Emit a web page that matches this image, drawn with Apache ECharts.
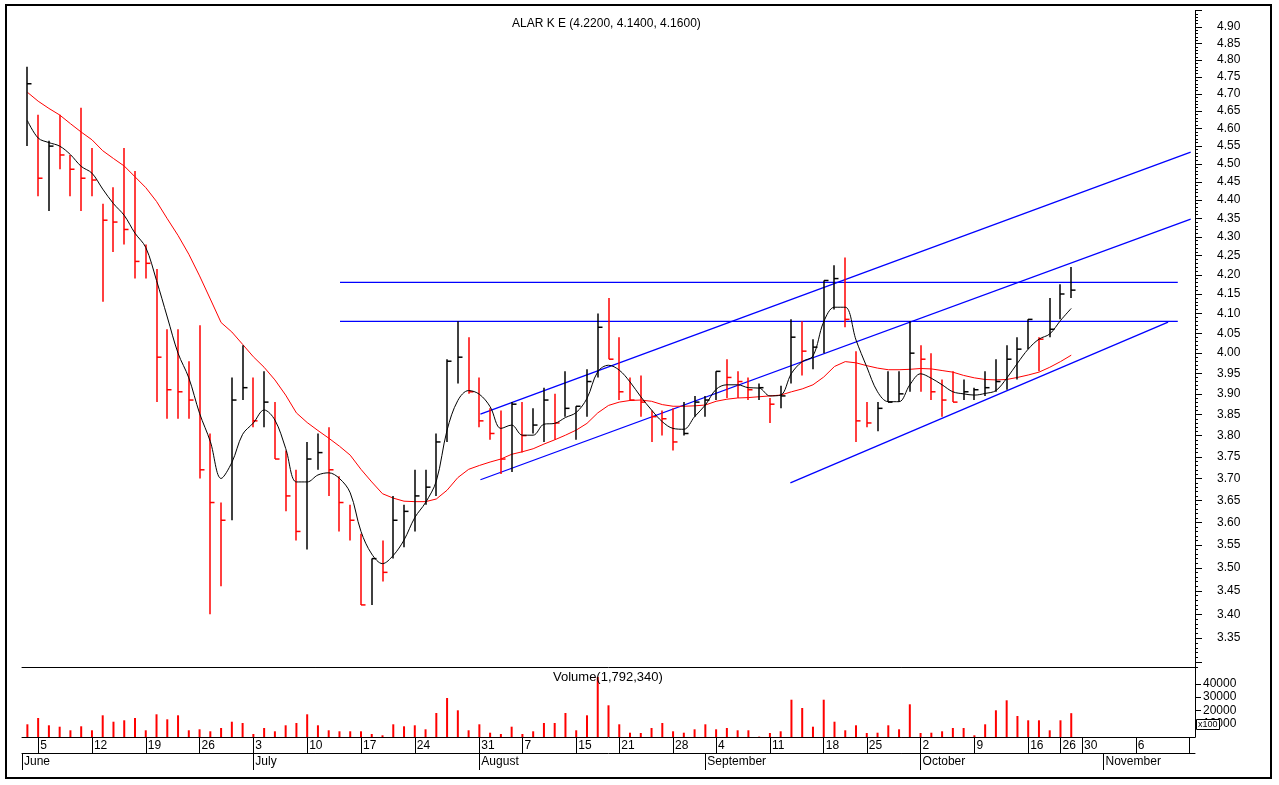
<!DOCTYPE html>
<html><head><meta charset="utf-8">
<script src="https://cdn.jsdelivr.net/npm/echarts@6/dist/echarts.min.js"></script>
<style>html,body{margin:0;padding:0;background:#fff}#c{width:1279px;height:785px}</style>
</head><body><div id="c"></div>
<script>
// ---- data ----
const highs = [4.78,4.64,4.565,4.64,4.525,4.66,4.545,4.39,4.435,4.545,4.48,4.28,4.215,4.06,4.06,3.98,4.07,3.805,3.645,3.94,
4.02,3.94,3.955,3.88,3.765,3.72,3.785,3.805,3.82,3.705,3.64,3.575,3.52,3.56,3.66,3.64,3.72,3.72,3.805,3.985,
4.08,4.04,3.94,3.865,3.86,3.88,3.88,3.865,3.915,3.90,3.955,3.87,3.96,4.10,4.14,4.04,3.94,3.945,3.86,3.86,
3.865,3.88,3.895,3.895,3.955,3.985,3.955,3.94,3.925,3.89,3.92,4.085,4.08,4.035,4.185,4.225,4.245,4.005,3.88,3.88,
3.955,3.955,4.08,4.02,4.00,3.935,3.955,3.935,3.915,3.955,3.985,4.02,4.04,4.085,4.04,4.14,4.175,4.22];
const lows = [4.55,4.41,4.37,4.485,4.41,4.37,4.41,4.13,4.26,4.28,4.19,4.19,3.88,3.84,3.84,3.84,3.70,3.40,3.46,3.605,
3.885,3.82,3.82,3.745,3.625,3.56,3.54,3.72,3.66,3.58,3.56,3.42,3.42,3.47,3.52,3.545,3.58,3.64,3.66,3.785,
3.925,3.90,3.82,3.79,3.71,3.715,3.76,3.805,3.785,3.79,3.845,3.79,3.845,3.94,3.985,3.885,3.885,3.845,3.785,3.80,
3.765,3.80,3.845,3.845,3.885,3.89,3.89,3.885,3.885,3.83,3.865,3.925,3.945,3.96,4.00,4.11,4.065,3.785,3.82,3.81,
3.88,3.88,3.905,3.905,3.885,3.845,3.88,3.885,3.885,3.895,3.905,3.91,3.935,4.01,3.955,4.04,4.085,4.14];
const closes = [4.73,4.46,4.55,4.525,4.485,4.46,4.455,4.345,4.34,4.32,4.235,4.23,3.99,3.91,3.905,3.885,3.72,3.645,3.605,3.885,
3.915,3.835,3.88,3.745,3.66,3.58,3.745,3.76,3.72,3.645,3.605,3.42,3.52,3.49,3.605,3.625,3.66,3.68,3.785,3.98,
3.99,3.905,3.835,3.805,3.745,3.875,3.80,3.825,3.885,3.83,3.865,3.87,3.93,4.065,3.985,3.905,3.885,3.88,3.845,3.84,
3.785,3.805,3.88,3.885,3.955,3.94,3.93,3.91,3.915,3.875,3.895,4.04,4.005,4.015,4.185,4.19,4.085,3.835,3.83,3.865,
3.88,3.90,4.00,3.985,3.905,3.885,3.88,3.905,3.91,3.915,3.93,3.985,4.01,4.085,4.035,4.06,4.15,4.16];
const maShort = [4.623,4.573,4.560,4.550,4.526,4.493,4.474,4.430,4.390,4.358,4.310,4.272,4.185,4.091,4.000,3.939,3.853,3.786,3.700,3.737,
3.803,3.830,3.861,3.837,3.770,3.692,3.692,3.708,3.713,3.700,3.667,3.580,3.530,3.509,3.527,3.561,3.611,3.645,3.694,3.813,
3.884,3.908,3.899,3.869,3.817,3.825,3.801,3.801,3.827,3.829,3.843,3.855,3.889,3.954,3.970,3.958,3.929,3.893,3.861,3.833,
3.817,3.815,3.845,3.873,3.911,3.922,3.922,3.915,3.914,3.895,3.897,3.950,3.979,3.993,4.079,4.116,4.116,4.033,3.966,3.905,
3.881,3.881,3.922,3.949,3.938,3.922,3.905,3.900,3.897,3.901,3.908,3.938,3.975,4.010,4.035,4.048,4.082,4.113];
const maLong = [4.705,4.679,4.658,4.639,4.614,4.590,4.568,4.537,4.515,4.494,4.464,4.434,4.396,4.349,4.304,4.254,4.197,4.137,4.077,4.053,
4.022,3.991,3.965,3.934,3.897,3.854,3.831,3.812,3.794,3.775,3.754,3.721,3.692,3.665,3.655,3.648,3.647,3.647,3.653,3.673,
3.702,3.721,3.730,3.738,3.745,3.756,3.762,3.769,3.780,3.790,3.801,3.813,3.829,3.854,3.872,3.880,3.884,3.885,3.882,3.874,
3.870,3.870,3.871,3.873,3.882,3.887,3.890,3.891,3.893,3.895,3.897,3.905,3.912,3.922,3.941,3.967,3.979,3.976,3.969,3.963,
3.959,3.959,3.960,3.962,3.961,3.957,3.953,3.945,3.939,3.935,3.934,3.935,3.940,3.946,3.953,3.965,3.979,3.995];
const volumes = [9550,14290,8800,7750,5040,8050,5040,16320,11500,12560,14290,5040,17070,13310,16320,5040,5790,4290,6770,11500,
10530,2260,6770,4290,8800,10530,17070,8800,5040,4290,4290,4290,2260,1280,9550,8050,8800,5790,18050,29330,
20080,5040,9550,3230,2260,7750,2260,4290,10530,10530,18050,5040,16320,45100,23840,9550,3230,3010,6770,10530,
4290,3230,5790,9550,5790,6770,5040,5040,300,3010,4290,28050,21810,7750,28050,11500,5040,8800,3010,3230,
8800,5790,24590,3010,3230,4290,6770,6770,1280,9550,20080,27600,15790,12560,12560,5040,12560,17923];
const levelHigh = [[29.05,4.18],[106.9,4.18]];
const levelLow = [[29.05,4.08],[106.9,4.08]];
const channelUpper = [[42.1,3.851],[108.1,4.533]];
const channelMiddle = [[42.1,3.697],[108.1,4.348]];
const channelLower = [[70.9,3.690],[106.0,4.078]];
const priceTicks = [3.35,3.40,3.45,3.50,3.55,3.60,3.65,3.70,3.75,3.80,3.85,3.90,3.95,4.00,4.05,4.10,4.15,4.20,4.25,4.30,4.35,4.40,4.45,4.50,4.55,4.60,4.65,4.70,4.75,4.80,4.85,4.90];
const volumeTicks = [10000,20000,30000,40000];
const dayTickIndex = [1,6,11,16,21,26,31,36,42,46,51,55,60,64,69,74,78,83,88,93,96,98,103,108];
const dayTickLabels = ['5','12','19','26','3','10','17','24','31','7','15','21','28','4','11','18','25','2','9','16','26','30','6',''];
const monthTickIndex = [-0.5,21,42,63,83,100];
const monthTickLabels = ['June','July','August','September','October','November'];
const titleText = 'ALAR K E (4.2200, 4.1400, 4.1600)';
const volumeText = 'Volume(1,792,340)';

// ---- build ----
const FONT = "'Liberation Sans', Arial, sans-serif";
const FS = 12;
const L = Math.log;
const RED = '#ff0000';
const hlc = closes.map((c, i) => [i, L(highs[i]), L(lows[i]), L(c), (i === 0 || c >= closes[i - 1]) ? 1 : 0]);
const toLine = arr => arr.map((v, i) => [i, L(v)]);
const toSeg = arr => arr.map(p => [p[0], L(p[1])]);
const majorTicks = [], minorTicks = [];
for (let k = 0; k <= 33; k++) majorTicks.push(L(3.30 + k * 0.05));
for (let k = 0; k <= 166; k++) minorTicks.push(L(3.29 + k * 0.01));

const chart = echarts.init(document.getElementById('c'), null, {renderer: 'canvas'});
const xRange = {min: -0.5, max: 108.5};
const blueLine = (data) => ({type: 'line', xAxisIndex: 0, yAxisIndex: 0, data: toSeg(data), showSymbol: false, silent: true,
  lineStyle: {color: '#0000ff', width: 1.3}, z: 2});
const priceGrid = {left: 22, right: 84, top: 10.7, bottom: 117.8};

chart.setOption({
  animation: false,
  backgroundColor: '#fff',
  textStyle: {fontFamily: FONT},
  title: [
    {text: titleText, left: 512, top: 18, padding: 0, textStyle: {fontSize: FS, fontWeight: 'normal', color: '#000', fontFamily: FONT}},
    {text: volumeText, left: 553, top: 671, padding: 0, textStyle: {fontSize: 13, fontWeight: 'normal', color: '#000', fontFamily: FONT}},
    {text: 'x100', left: 1196, top: 719, padding: [1, 2], borderColor: '#000', borderWidth: 1, backgroundColor: '#fff',
     textStyle: {fontSize: 9, fontWeight: 'normal', color: '#000', fontFamily: FONT}}
  ],
  grid: [
    priceGrid,
    {left: 22, right: 84, top: 667.2, bottom: 48},
    Object.assign({}, priceGrid)
  ],
  xAxis: [
    Object.assign({type: 'value', gridIndex: 0, axisLine: {show: true, onZero: false, lineStyle: {color: '#000', width: 1}},
      axisTick: {show: false}, axisLabel: {show: false}, splitLine: {show: false}}, xRange),
    Object.assign({type: 'value', gridIndex: 1, position: 'bottom', axisLine: {show: true, onZero: false, lineStyle: {color: '#000', width: 1}},
      axisTick: {show: true, customValues: dayTickIndex, length: 16, lineStyle: {color: '#000'}},
      axisLabel: {show: true, customValues: dayTickIndex, formatter: v => { const k = dayTickIndex.indexOf(v); return k >= 0 ? dayTickLabels[k] : ''; },
        align: 'left', verticalAlign: 'top', padding: [0, 0, 0, 2], margin: 3, fontSize: FS, color: '#000', fontFamily: FONT},
      splitLine: {show: false}}, xRange),
    Object.assign({type: 'value', gridIndex: 1, position: 'bottom', offset: 16, axisLine: {show: true, onZero: false, lineStyle: {color: '#000', width: 1}},
      axisTick: {show: true, customValues: monthTickIndex, length: 17, lineStyle: {color: '#000'}},
      axisLabel: {show: true, customValues: monthTickIndex, formatter: v => { const k = monthTickIndex.indexOf(v); return k >= 0 ? monthTickLabels[k] : ''; },
        align: 'left', verticalAlign: 'top', padding: [0, 0, 0, 2], margin: 3, fontSize: FS, color: '#000', fontFamily: FONT},
      splitLine: {show: false}}, xRange),
    Object.assign({type: 'value', gridIndex: 2, show: false}, xRange)
  ],
  yAxis: [
    {type: 'value', gridIndex: 0, position: 'right', min: L(3.29), max: L(4.95),
      axisLine: {show: true, onZero: false, lineStyle: {color: '#000', width: 1}},
      axisTick: {show: true, customValues: majorTicks, length: 7, lineStyle: {color: '#000'}},
      axisLabel: {show: true, customValues: priceTicks.map(L), formatter: v => Math.exp(v).toFixed(2), margin: 22,
        fontSize: FS, color: '#000', fontFamily: FONT},
      splitLine: {show: false}},
    {type: 'value', gridIndex: 1, position: 'right', min: 0, max: 52500,
      axisLine: {show: true, onZero: false, lineStyle: {color: '#000', width: 1}},
      axisTick: {show: true, customValues: volumeTicks, length: 6, lineStyle: {color: '#000'}},
      axisLabel: {show: true, customValues: volumeTicks, formatter: v => String(v), margin: 8, fontSize: FS, color: '#000', fontFamily: FONT},
      splitLine: {show: false}},
    {type: 'value', gridIndex: 2, position: 'right', min: L(3.29), max: L(4.95),
      axisLine: {show: false, onZero: false},
      axisTick: {show: true, customValues: minorTicks, length: 3, lineStyle: {color: '#000'}},
      axisLabel: {show: false}, splitLine: {show: false}}
  ],
  series: [
    blueLine(levelHigh), blueLine(levelLow), blueLine(channelUpper), blueLine(channelMiddle), blueLine(channelLower),
    {type: 'line', xAxisIndex: 0, yAxisIndex: 0, data: toLine(maLong), showSymbol: false, silent: true,
      lineStyle: {color: RED, width: 1}, z: 3},
    {type: 'custom', xAxisIndex: 0, yAxisIndex: 0, data: hlc, silent: true, z: 4,
      renderItem: (params, api) => {
        const i = api.value(0);
        const hi = api.coord([i, api.value(1)]);
        const lo = api.coord([i, api.value(2)]);
        const cl = api.coord([i, api.value(3)]);
        const col = api.value(4) ? '#000' : RED;
        const x = Math.round(hi[0]);
        return {type: 'group', children: [
          {type: 'line', shape: {x1: x, y1: hi[1], x2: x, y2: lo[1]}, style: {stroke: col, lineWidth: 1.5}},
          {type: 'line', shape: {x1: x, y1: cl[1], x2: x + 4.5, y2: cl[1]}, style: {stroke: col, lineWidth: 1.5}}
        ]};
      }},
    {type: 'line', xAxisIndex: 0, yAxisIndex: 0, data: toLine(maShort), showSymbol: false, silent: true, smooth: 0.35,
      lineStyle: {color: '#000', width: 1}, z: 5},
    {type: 'bar', xAxisIndex: 1, yAxisIndex: 1, data: volumes.map((v, i) => [i, v]), barWidth: 2, silent: true,
      itemStyle: {color: RED}}
  ],
  graphic: [
    {type: 'rect', shape: {x: 6, y: 5, width: 1265, height: 773}, style: {fill: 'none', stroke: '#000', lineWidth: 2}, silent: true, z: 100}
  ]
});
</script></body></html>
